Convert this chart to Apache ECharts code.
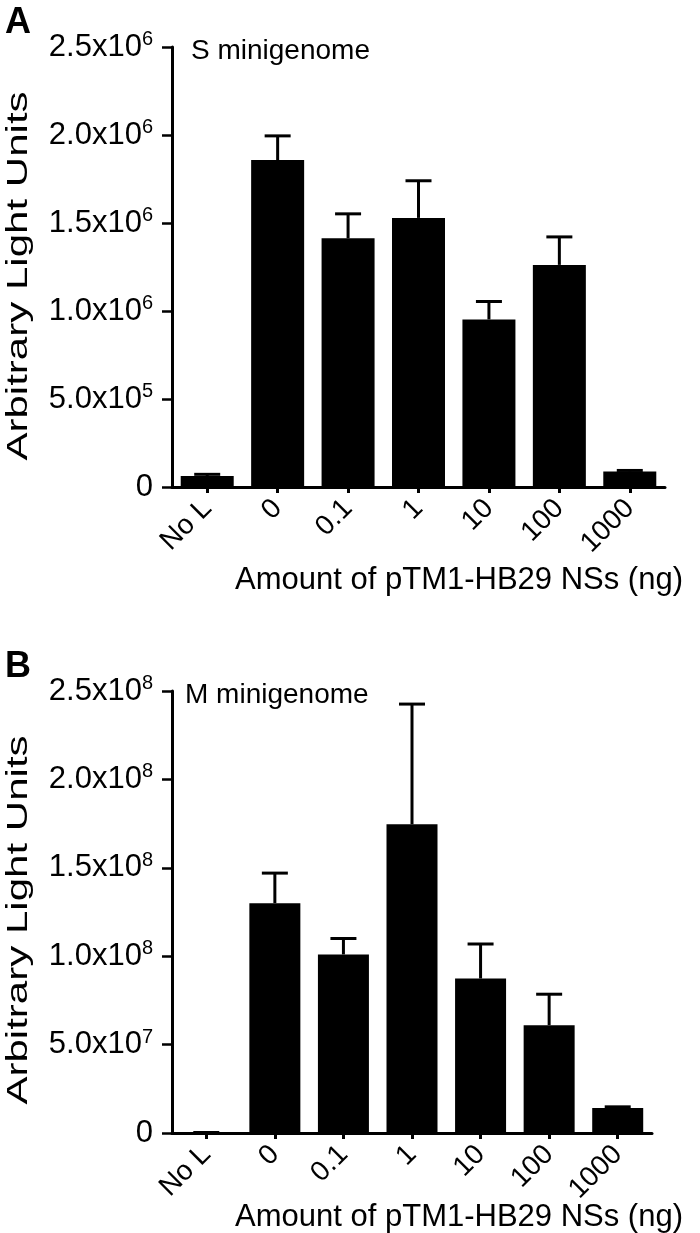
<!DOCTYPE html>
<html>
<head>
<meta charset="utf-8">
<script src="https://cdn.jsdelivr.net/npm/echarts@6/dist/echarts.min.js"></script>
<style>
  html, body { margin: 0; padding: 0; background: #fff; }
  #main { width: 700px; height: 1233px; }
</style>
</head>
<body>
<div id="main"></div>
<script>
// categories (ng of pTM1-HB29 NSs)
var cats = ['No L', '0', '0.1', '1', '10', '100', '1000'];

// panel A: S minigenome, mean and SEM
var sMean = [0.062e6, 1.858e6, 1.413e6, 1.529e6, 0.952e6, 1.262e6, 0.088e6];
var sSem = [0.010e6, 0.137e6, 0.139e6, 0.211e6, 0.102e6, 0.159e6, 0.006e6];

// panel B: M minigenome, mean and SEM
var mMean = [0.003e8, 1.30e8, 1.01e8, 1.746e8, 0.874e8, 0.61e8, 0.141e8];
var mSem = [0, 0.17e8, 0.09e8, 0.68e8, 0.195e8, 0.175e8, 0.007e8];

// tick label text: [mantissa, exponent]
var sTicks = { 0: ['0', ''], 500000: ['5.0x10', '5'], 1000000: ['1.0x10', '6'], 1500000: ['1.5x10', '6'], 2000000: ['2.0x10', '6'], 2500000: ['2.5x10', '6'] };
var mTicks = { 0: ['0', ''], 50000000: ['5.0x10', '7'], 100000000: ['1.0x10', '8'], 150000000: ['1.5x10', '8'], 200000000: ['2.0x10', '8'], 250000000: ['2.5x10', '8'] };

var FONT = 'Liberation Sans';
var yTitle = 'Arbitrary Light Units';
var xTitle = 'Amount of pTM1-HB29 NSs (ng)';

function tickFmt(table) {
  return function (v) {
    var t = table[Math.round(v)];
    if (!t) return '';
    if (!t[1]) return '{b|' + t[0] + '}';
    return '{b|' + t[0] + '}{sup|' + t[1] + '}';
  };
}

var richY = {
  b: { fontSize: 31, fontFamily: FONT, color: '#000' },
  sup: { fontSize: 20, fontFamily: FONT, color: '#000', verticalAlign: 'bottom', padding: [0, 0, 15, 0] }
};

function errData(mean, sem) {
  return mean.map(function (m, i) { return [i, m, m + sem[i]]; });
}

function errRender(params, api) {
  var x = api.value(0);
  var top = api.coord([x, api.value(2)]);
  var base = api.coord([x, api.value(1)]);
  var hw = 13;
  var st = { stroke: '#000', lineWidth: 3 };
  return {
    type: 'group',
    children: [
      { type: 'line', shape: { x1: top[0], y1: base[1], x2: top[0], y2: top[1] }, style: st },
      { type: 'line', shape: { x1: top[0] - hw, y1: top[1], x2: top[0] + hw, y2: top[1] }, style: st }
    ]
  };
}

var axisLine = { show: true, lineStyle: { color: '#000', width: 3 } };

function xAxis(gi) {
  return {
    type: 'category', gridIndex: gi, data: cats,
    axisLine: axisLine,
    axisTick: { show: true, alignWithLabel: true, length: 6, lineStyle: { color: '#000', width: 3 } },
    axisLabel: { rotate: 45, fontSize: 28, fontFamily: FONT, color: '#000', margin: 17, padding: [22, 0, 0, 0], interval: 0 }
  };
}

function yAxis(gi, max, table) {
  return {
    type: 'value', gridIndex: gi, min: 0, max: max, interval: max / 5,
    axisLine: axisLine,
    axisTick: { show: true, length: 10, lineStyle: { color: '#000', width: 2.5 } },
    splitLine: { show: false },
    axisLabel: { formatter: tickFmt(table), rich: richY, margin: 19 }
  };
}

// rotated y title, stretched along its reading direction like the original
function yName(cy) {
  return {
    type: 'text', x: 19, y: cy, rotation: Math.PI / 2, scaleX: 1.45,
    style: { text: yTitle, font: '29px "Liberation Sans"', fill: '#000', align: 'center', verticalAlign: 'middle' }
  };
}

var chart = echarts.init(document.getElementById('main'));
chart.setOption({
  animation: false,
  backgroundColor: '#fff',
  title: [
    { text: 'A', left: 0, top: 0, textStyle: { fontSize: 36, fontWeight: 'bold', fontFamily: FONT, color: '#000' } },
    { text: 'S minigenome', left: 186, top: 32, textStyle: { fontSize: 28, fontWeight: 'normal', fontFamily: FONT, color: '#000' } },
    { text: xTitle, right: 12, top: 560, textStyle: { fontSize: 31, fontWeight: 'normal', fontFamily: FONT, color: '#000' } },
    { text: 'B', left: 0, top: 644, textStyle: { fontSize: 36, fontWeight: 'bold', fontFamily: FONT, color: '#000' } },
    { text: 'M minigenome', left: 180, top: 676, textStyle: { fontSize: 28, fontWeight: 'normal', fontFamily: FONT, color: '#000' } },
    { text: xTitle, right: 12, top: 1197, textStyle: { fontSize: 31, fontWeight: 'normal', fontFamily: FONT, color: '#000' } }
  ],
  graphic: [yName(276), yName(920)],
  grid: [
    { left: 172, top: 47, width: 493, height: 440, containLabel: false, outerBoundsMode: 'none' },
    { left: 172, top: 691, width: 480, height: 442, containLabel: false, outerBoundsMode: 'none' }
  ],
  xAxis: [xAxis(0), xAxis(1)],
  yAxis: [yAxis(0, 2.5e6, sTicks), yAxis(1, 2.5e8, mTicks)],
  series: [
    { type: 'bar', xAxisIndex: 0, yAxisIndex: 0, data: sMean, barWidth: 53, itemStyle: { color: '#000' }, z: 2 },
    { type: 'custom', xAxisIndex: 0, yAxisIndex: 0, data: errData(sMean, sSem), renderItem: errRender, z: 3 },
    { type: 'bar', xAxisIndex: 1, yAxisIndex: 1, data: mMean, barWidth: 51, itemStyle: { color: '#000' }, z: 2 },
    { type: 'custom', xAxisIndex: 1, yAxisIndex: 1, data: errData(mMean, mSem), renderItem: errRender, z: 3 }
  ]
});
</script>
</body>
</html>
